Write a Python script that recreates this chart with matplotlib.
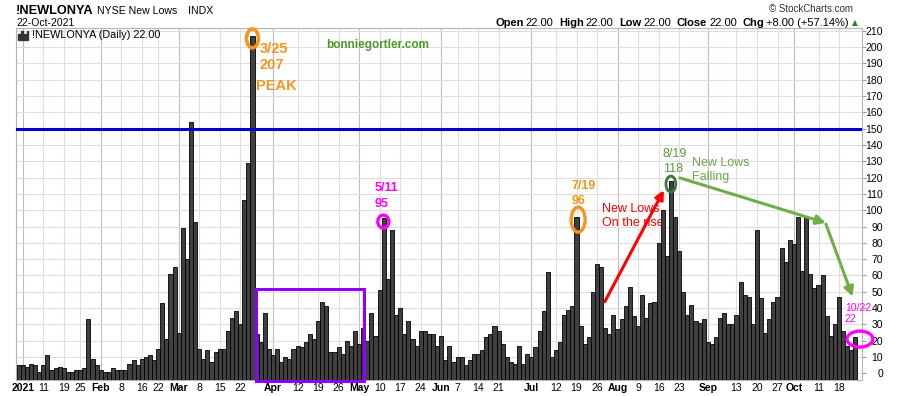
import numpy as np
import pandas as pd
import matplotlib
matplotlib.use("Agg")
import matplotlib.pyplot as plt
from matplotlib.patches import Ellipse, Rectangle

plt.rcParams['font.family'] = ['Liberation Sans', 'DejaVu Sans']

# ---------------- data ----------------
holidays = ['2021-01-01', '2021-01-18', '2021-02-15', '2021-04-02',
            '2021-05-31', '2021-07-05', '2021-09-06']
dec_jan = [5, 5, 4, 6, 5, 1, 5, 11, 2, 3, 4, 3, 1, 1, 2, 2, 3, 33, 9, 5]
feb = [2, 1, 1, 3, 2, 2, 2, 6, 8, 5, 9, 10, 11, 8, 15, 43, 21, 61, 65]
mar = [25, 89, 70, 154, 93, 15, 9, 14, 7, 13, 15, 15, 26, 34, 38, 30, 106, 129,
       207, 24, 19, 37, 15]
apr = [11, 15, 7, 10, 9, 15, 17, 16, 19, 24, 21, 32, 44, 41, 13, 13, 16, 12, 20,
       17, 26]
may = [18, 28, 20, 37, 23, 51, 95, 58, 88, 36, 40, 24, 32, 21, 17, 26, 26, 24,
       24, 17]
jun = [23, 8, 17, 7, 10, 10, 5, 8, 12, 12, 14, 22, 24, 29, 26, 18, 10, 7, 6, 17,
       6, 12]
jul = [10, 16, 26, 38, 62, 10, 14, 19, 36, 39, 41, 96, 29, 18, 22, 50, 67, 65,
       28, 24, 36]
aug = [27, 33, 41, 53, 35, 29, 48, 34, 43, 44, 80, 100, 72, 118, 96, 75, 50, 36,
       42, 32, 31, 33]
sep = [19, 18, 22, 34, 37, 30, 30, 36, 56, 48, 47, 30, 88, 46, 25, 33, 44, 47,
       77, 68, 82]
octo = [79, 96, 63, 96, 61, 52, 54, 60, 35, 23, 30, 47, 26, 17, 14, 22]

tick_dates = ['2021-01-04', '2021-01-11', '2021-01-19', '2021-01-25',
              '2021-02-01', '2021-02-08', '2021-02-16', '2021-02-22',
              '2021-03-01', '2021-03-08', '2021-03-15', '2021-03-22',
              '2021-04-01', '2021-04-12', '2021-04-19', '2021-04-26',
              '2021-05-03', '2021-05-10', '2021-05-17', '2021-05-24',
              '2021-06-01', '2021-06-07', '2021-06-14', '2021-06-21',
              '2021-07-01', '2021-07-12', '2021-07-19', '2021-07-26',
              '2021-08-02', '2021-08-09', '2021-08-16', '2021-08-23',
              '2021-09-01', '2021-09-13', '2021-09-20', '2021-09-27',
              '2021-10-01', '2021-10-11', '2021-10-18']
tick_labels = ['2021', '11', '19', '25', 'Feb', '8', '16', '22', 'Mar', '8',
               '15', '22', 'Apr', '12', '19', '26', 'May', '10', '17', '24',
               'Jun', '7', '14', '21', 'Jul', '12', '19', '26', 'Aug', '9', '16',
               '23', 'Sep', '13', '20', '27', 'Oct', '11', '18']
month_labels = {'2021', 'Feb', 'Mar', 'Apr', 'May', 'Jun', 'Jul', 'Aug', 'Sep', 'Oct'}

values = np.array(dec_jan + feb + mar + apr + may + jun + jul + aug + sep + octo,
                  dtype=float)
dates = pd.bdate_range('2020-12-31', '2021-10-22', freq='C', holidays=holidays)
assert len(dates) == len(values), (len(dates), len(values))


def X(d):
    return float(dates.get_loc(pd.Timestamp(d)))


# ---------------- figure ----------------
W, H = 900, 396
fig = plt.figure(figsize=(W / 100, H / 100), dpi=100)
ax = fig.add_axes([16 / W, 1 - 380 / H, (862 - 16) / W, (380 - 28) / H])

ymin, ymax = -4.1, 211.7
x = np.arange(len(values))
ax.bar(x, values - ymin, bottom=ymin, width=1.0, color='#404040',
       edgecolor='black', linewidth=0.6, zorder=3)
ax.set_xlim(-0.66, len(values) + 0.6)
ax.set_ylim(ymin, ymax)

# grid
ax.set_yticks(np.arange(0, 211, 10))
ax.grid(axis='y', color='#dedede', linewidth=0.8, zorder=0)
tpos = [X(d) for d in tick_dates]
for p, lab in zip(tpos, tick_labels):
    ax.axvline(p, color='#bdbdbd' if lab in month_labels else '#dedede',
               linewidth=0.8, zorder=0)

ax.set_xticks(tpos)
ax.set_xticklabels(tick_labels)
for t, lab in zip(ax.get_xticklabels(), tick_labels):
    if lab in month_labels:
        t.set_fontweight('bold')
ax.tick_params(axis='x', length=0, pad=2.5, labelsize=7.5, colors='black')

ax.yaxis.tick_right()
ax.tick_params(axis='y', length=3, color='#999999', pad=12.1, labelsize=7.5)
for t in ax.get_yticklabels():
    t.set_horizontalalignment('right')

for s in ax.spines.values():
    s.set_color('#b4b4b4')
    s.set_linewidth(0.8)

# blue level line
ax.axhline(150, color='#0000cc', linewidth=2.2, zorder=4)

# purple box
ax.add_patch(Rectangle((X('2021-03-26') - 0.15, ymin - 0.4),
                       X('2021-05-04') + 0.2 - (X('2021-03-26') - 0.15),
                       51.7 - (ymin - 0.4), fill=False, edgecolor='#8f00ff',
                       linewidth=2.2, zorder=5, clip_on=False))

orange = '#f7941d'
magenta = '#ff00ff'
red = '#ff0000'
dgreen = '#3d7a34'
lgreen = '#6aa84f'
agreen = '#70ad47'


def ell(xc, yc, w, h, color, lw):
    ax.add_patch(Ellipse((xc, yc), w, h, fill=False, edgecolor=color,
                         linewidth=lw, zorder=6, clip_on=False))


# peak 3/25
ell(X('2021-03-25'), 205.3, 2.9, 11.6, orange, 2.6)
ax.text(X('2021-03-25') + 1.8, 196.4, '3/25', color=orange, fontsize=10.5,
        fontweight='bold', va='baseline', zorder=6)
ax.text(X('2021-03-25') + 1.8, 186.4, '207', color=orange, fontsize=10.5,
        fontweight='bold', va='baseline', zorder=6)
ax.text(X('2021-03-25') + 0.85, 173.7, 'PEAK', color=orange, fontsize=10.5,
        fontweight='bold', va='baseline', zorder=6)

ax.text(87.5, 199.4, 'bonniegortler.com', color='#4c9a2a', fontsize=8.5,
        fontweight='bold', ha='center', va='baseline', zorder=6)

# 5/11
ell(X('2021-05-11') - 0.1, 93.0, 2.7, 8.0, magenta, 2.4)
ax.text(X('2021-05-11') - 2.2, 111.8, '5/11', color=magenta, fontsize=9,
        fontweight='bold', va='baseline', zorder=6)
ax.text(X('2021-05-11') - 2.2, 101.8, '95', color=magenta, fontsize=9,
        fontweight='bold', va='baseline', zorder=6)

# 7/19
ell(X('2021-07-19') + 0.4, 94.2, 3.4, 15.3, orange, 2.4)
ax.text(X('2021-07-19') - 1.2, 112.8, '7/19', color=orange, fontsize=9,
        fontweight='bold', va='baseline', zorder=6)
ax.text(X('2021-07-19') - 1.2, 103.8, '96', color=orange, fontsize=9,
        fontweight='bold', va='baseline', zorder=6)

# New lows on the rise
ax.text(142.1, 99.1, 'New Lows', color=red, fontsize=9, va='baseline', zorder=2)
ax.text(142.1, 90.3, 'On the rise', color=red, fontsize=9, va='baseline', zorder=2)
ax.annotate('', xy=(157.3, 112.3), xytext=(142.9, 43.9),
            arrowprops=dict(arrowstyle='-|>', color=red, lw=2.2,
                            mutation_scale=13, shrinkA=0, shrinkB=0), zorder=7)

# 8/19
ell(X('2021-08-19'), 116.0, 2.4, 9.8, dgreen, 2.0)
ax.text(X('2021-08-19') - 2.0, 132.4, '8/19', color='#5a9a3c', fontsize=9,
        va='baseline', zorder=6)
ax.text(X('2021-08-19') - 2.0, 123.6, '118', color='#5a9a3c', fontsize=9,
        va='baseline', zorder=6)
ax.text(164.2, 127.1, 'New Lows', color=lgreen, fontsize=9, va='baseline', zorder=6)
ax.text(164.2, 118.5, 'Falling', color=lgreen, fontsize=9, va='baseline', zorder=6)
ax.annotate('', xy=(196.8, 92.2), xytext=(161.2, 119.8),
            arrowprops=dict(arrowstyle='-|>', color=agreen, lw=2.2,
                            mutation_scale=14, shrinkA=0, shrinkB=0), zorder=7)
ax.annotate('', xy=(203.3, 47.0), xytext=(196.8, 91.5),
            arrowprops=dict(arrowstyle='-|>', color=agreen, lw=2.2,
                            mutation_scale=14, shrinkA=0, shrinkB=0),
            zorder=7, annotation_clip=False)

# 10/22
ell(X('2021-10-22') + 1.1, 21.0, 6.3, 9.8, magenta, 2.4)
ax.text(201.4, 38.4, '10/22', color=magenta, fontsize=7.5, va='baseline', zorder=6)
ax.text(201.4, 31.3, '22', color=magenta, fontsize=7.5, va='baseline', zorder=6)

# inner legend label
ax.text(32.3 / W, 0, '', transform=fig.transFigure)
fig.text(32.3 / W, 1 - 38.5 / H, '!NEWLONYA (Daily) 22.00', fontsize=7.8,
         va='baseline', color='black')
for bx, bh in [(17.5, 5), (20.5, 9), (23.5, 6), (26.5, 8)]:
    fig.add_artist(Rectangle((bx / W, 1 - 39.5 / H), 2 / W, bh / H,
                             transform=fig.transFigure, color='#333333'))

# header
fig.text(16 / W, 1 - 13.5 / H, '!NEWLONYA', fontsize=9.2, fontweight='bold',
         va='baseline')
fig.text(97.3 / W, 1 - 13.5 / H, 'NYSE New Lows', fontsize=7.6, va='baseline')
fig.text(187.7 / W, 1 - 13.5 / H, 'INDX', fontsize=7.6, va='baseline')
fig.text(16 / W, 1 - 25.5 / H, '22-Oct-2021', fontsize=7.5, va='baseline')
fig.text(853 / W, 1 - 12 / H, '\u00a9 StockCharts.com', fontsize=7,
         va='baseline', ha='right', color='#333333')

pieces = [('Open', 'bold', 0), ('22.00', 'normal', 1.5), ('High', 'bold', 4),
          ('22.00', 'normal', 1.5), ('Low', 'bold', 4), ('22.00', 'normal', 1.5),
          ('Close', 'bold', 4), ('22.00', 'normal', 1.5), ('Chg', 'bold', 4),
          ('+8.00 (+57.14%)', 'normal', 1.5)]
t = fig.text(495 / W, 1 - 26 / H, pieces[0][0], fontsize=8, fontweight='bold',
             va='baseline')
for txt, wt, gap in pieces[1:]:
    t = ax.annotate(txt, xy=(1, 0), xycoords=t, xytext=(gap, 0),
                    textcoords='offset points', fontsize=8, fontweight=wt,
                    va='bottom', ha='left', annotation_clip=False)
ax.annotate('\u25b2', xy=(1, 0), xycoords=t, xytext=(2, 0.5),
            textcoords='offset points', fontsize=5.5, color='#2e7d32',
            va='bottom', ha='left', annotation_clip=False,
            family=['DejaVu Sans'])

fig.savefig('out.png', dpi=100)
